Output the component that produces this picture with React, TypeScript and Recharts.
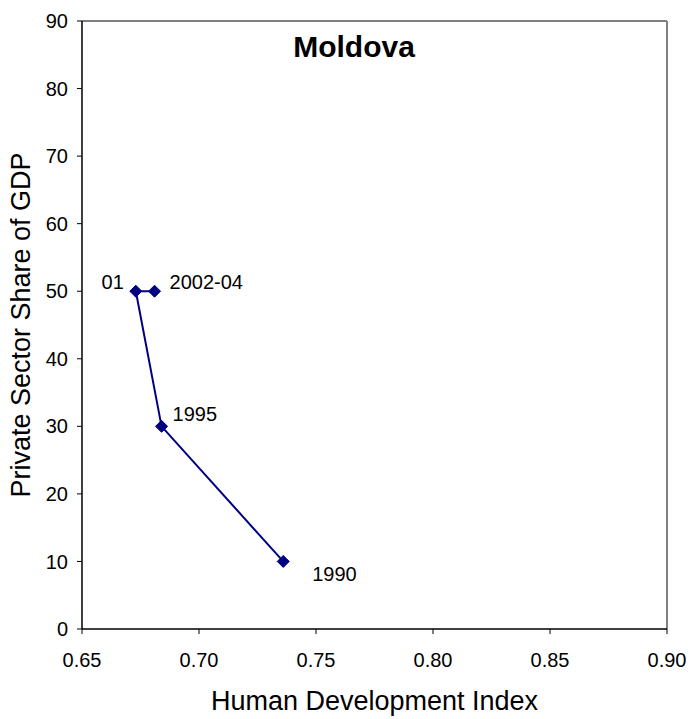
import React from "react";
import {
  ScatterChart,
  Scatter,
  XAxis,
  YAxis,
  ReferenceLine,
} from "recharts";

const years = ["1990", "1995", "01", "2002-04"];
const hdi = [0.736, 0.684, 0.673, 0.681];
const privateShare = [10, 30, 50, 50];
const xTicks = [0.65, 0.7, 0.75, 0.8, 0.85, 0.9];
const yTicks = [0, 10, 20, 30, 40, 50, 60, 70, 80, 90];

const data = years.map((y, i) => ({ year: y, hdi: hdi[i], share: privateShare[i] }));

const FONT = '"Liberation Sans", Arial, Helvetica, sans-serif';
const NAVY = "#000080";

const labelStyle: Record<string, { dx: number; dy: number; anchor: "start" | "end" }> = {
  "1990": { dx: 29, dy: 20, anchor: "start" },
  "1995": { dx: 11, dy: -5, anchor: "start" },
  "01": { dx: -12, dy: -2, anchor: "end" },
  "2002-04": { dx: 15, dy: -2, anchor: "start" },
};

const DiamondWithLabel = (props: any) => {
  const { cx, cy, payload } = props;
  if (cx == null || cy == null) return null;
  const s = 6;
  const st = labelStyle[payload.year] || { dx: 10, dy: 0, anchor: "start" };
  return (
    <g>
      <polygon
        points={`${cx},${cy - s} ${cx + s},${cy} ${cx},${cy + s} ${cx - s},${cy}`}
        fill={NAVY}
        stroke={NAVY}
      />
      <text
        x={cx + st.dx}
        y={cy + st.dy}
        textAnchor={st.anchor}
        fontFamily={FONT}
        fontSize={20}
        fill="#000"
      >
        {payload.year}
      </text>
    </g>
  );
};

const XTitle = (props: any) => {
  const vb = props.viewBox || {};
  return (
    <text
      x={vb.x + vb.width / 2}
      y={710}
      textAnchor="middle"
      fontFamily={FONT}
      fontSize={27}
      fill="#000"
    >
      Human Development Index
    </text>
  );
};

const YTitle = (props: any) => {
  const vb = props.viewBox || {};
  const cx = 30;
  const cy = vb.y + vb.height / 2;
  return (
    <text
      x={cx}
      y={cy}
      transform={`rotate(-90, ${cx}, ${cy})`}
      textAnchor="middle"
      fontFamily={FONT}
      fontSize={27}
      fill="#000"
    >
      Private Sector Share of GDP
    </text>
  );
};

export default function App() {
  return (
    <div
      style={{
        position: "absolute",
        left: 0,
        top: 0,
        width: 692,
        height: 719,
        background: "#fff",
      }}
    >
      <ScatterChart
        width={692}
        height={719}
        margin={{ top: 21, right: 25, left: 0, bottom: 0 }}
      >
        <XAxis
          type="number"
          dataKey="hdi"
          domain={[0.65, 0.9]}
          ticks={xTicks}
          tickFormatter={(v: number) => v.toFixed(2)}
          allowDataOverflow
          height={90}
          tickSize={5}
          tickMargin={19}
          axisLine={{ stroke: "#000", strokeWidth: 1.5 }}
          tickLine={{ stroke: "#000" }}
          tick={{ fill: "#000", fontSize: 20, fontFamily: FONT }}
          label={<XTitle />}
        />
        <YAxis
          type="number"
          dataKey="share"
          domain={[0, 90]}
          ticks={yTicks}
          allowDataOverflow
          width={82}
          tickSize={5}
          tickMargin={9}
          axisLine={{ stroke: "#000", strokeWidth: 1.5 }}
          tickLine={{ stroke: "#000" }}
          tick={{ fill: "#000", fontSize: 20, fontFamily: FONT }}
          label={<YTitle />}
        />
        <ReferenceLine x={0.9} stroke="#808080" strokeWidth={2} />
        <ReferenceLine y={90} stroke="#808080" strokeWidth={2} />
        <Scatter
          data={data}
          line={{ stroke: NAVY, strokeWidth: 2 }}
          lineType="joint"
          shape={<DiamondWithLabel />}
          isAnimationActive={false}
        />
      </ScatterChart>
      <div
        style={{
          position: "absolute",
          left: 254,
          width: 200,
          top: 29,
          textAlign: "center",
          fontFamily: FONT,
          fontWeight: "bold",
          fontSize: 30,
          lineHeight: "36px",
          color: "#000",
        }}
      >
        Moldova
      </div>
    </div>
  );
}
